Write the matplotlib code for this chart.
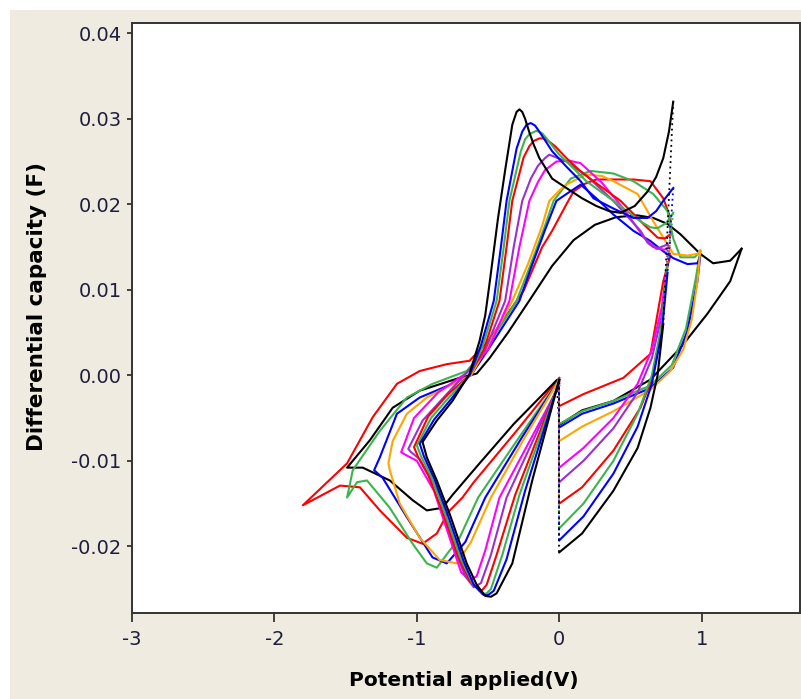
import matplotlib
matplotlib.use("Agg")
import matplotlib.pyplot as plt
from matplotlib.patches import Rectangle
from matplotlib.ticker import FormatStrFormatter

plt.rcParams['font.family'] = ['DejaVu Sans']
plt.rcParams['axes.unicode_minus'] = False

# each curve: main path (from x=0 down-left, round the left vertex, up and
# along the upper branch) and the lower-right path (right vertex back to x=0)
black_a = [(0.00, -0.0005), (-0.19, -0.0123), (-0.33, -0.0220), (-0.44, -0.0255), (-0.48, -0.0259),
           (-0.52, -0.0258), (-0.58, -0.0245), (-0.65, -0.0220), (-0.77, -0.0162), (-0.86, -0.0123),
           (-0.93, -0.0096), (-0.96, -0.0078), (-0.86, -0.0053), (-0.75, -0.0030), (-0.63, 0.0002),
           (-0.56, 0.0040), (-0.52, 0.0070), (-0.49, 0.0107), (-0.43, 0.0184), (-0.38, 0.0240),
           (-0.33, 0.0293), (-0.30, 0.0308), (-0.28, 0.0311), (-0.26, 0.0308), (-0.24, 0.0300),
           (-0.21, 0.0284), (-0.18, 0.0270), (-0.14, 0.0254), (-0.05, 0.0230), (0.05, 0.0219),
           (0.16, 0.0207), (0.26, 0.0198), (0.35, 0.0192), (0.43, 0.0190), (0.53, 0.0198),
           (0.62, 0.0215), (0.68, 0.0232), (0.73, 0.0254), (0.77, 0.0285), (0.80, 0.0320)]
black_a_low = [(0.73, 0.0060), (0.69, 0.0000), (0.64, -0.0038), (0.55, -0.0085), (0.38, -0.0135),
               (0.16, -0.0185), (0.00, -0.0207)]

blue_a = [(0.00, -0.0006), (-0.24, -0.0135), (-0.37, -0.0215), (-0.46, -0.0252), (-0.50, -0.0257),
          (-0.53, -0.0257), (-0.60, -0.0245), (-0.67, -0.0218), (-0.79, -0.0160), (-0.88, -0.0120),
          (-0.95, -0.0095), (-0.98, -0.0080), (-0.88, -0.0052), (-0.76, -0.0028), (-0.63, 0.0000),
          (-0.55, 0.0035), (-0.46, 0.0087), (-0.41, 0.0150), (-0.37, 0.0204), (-0.30, 0.0265),
          (-0.26, 0.0285), (-0.23, 0.0293), (-0.20, 0.0295), (-0.17, 0.0292), (-0.14, 0.0285),
          (-0.05, 0.0262), (0.05, 0.0244), (0.15, 0.0227), (0.24, 0.0207), (0.38, 0.0195),
          (0.52, 0.0184), (0.62, 0.0184), (0.68, 0.0192), (0.73, 0.0204), (0.80, 0.0219)]
blue_a_low = [(0.76, 0.0120), (0.72, 0.0050), (0.65, -0.0010), (0.55, -0.0060), (0.38, -0.0115),
              (0.17, -0.0165), (0.00, -0.0193)]

green_a = [(0.00, -0.0007), (-0.28, -0.0140), (-0.40, -0.0210), (-0.48, -0.0250), (-0.51, -0.0255),
           (-0.54, -0.0256), (-0.61, -0.0243), (-0.69, -0.0215), (-0.81, -0.0158), (-0.90, -0.0118),
           (-0.97, -0.0095), (-1.00, -0.0082), (-0.90, -0.0050), (-0.77, -0.0025), (-0.63, 0.0000),
           (-0.54, 0.0033), (-0.44, 0.0087), (-0.39, 0.0150), (-0.35, 0.0204), (-0.27, 0.0262),
           (-0.24, 0.0276), (-0.21, 0.0282), (-0.16, 0.0286), (-0.12, 0.0283), (-0.08, 0.0275),
           (0.00, 0.0258), (0.10, 0.0242), (0.19, 0.0227), (0.38, 0.0204), (0.57, 0.0180),
           (0.64, 0.0173), (0.69, 0.0172), (0.75, 0.0178), (0.80, 0.0190)]
green_a_low = [(0.76, 0.0130), (0.72, 0.0060), (0.65, 0.0000), (0.55, -0.0045), (0.38, -0.0100),
               (0.17, -0.0150), (0.00, -0.0179)]

red_a = [(0.00, -0.0008), (-0.31, -0.0140), (-0.44, -0.0210), (-0.51, -0.0245), (-0.54, -0.0251),
         (-0.56, -0.0252), (-0.63, -0.0240), (-0.71, -0.0212), (-0.83, -0.0155), (-0.92, -0.0117),
         (-0.99, -0.0096), (-1.02, -0.0084), (-0.92, -0.0048), (-0.78, -0.0022), (-0.63, 0.0000),
         (-0.53, 0.0030), (-0.42, 0.0087), (-0.37, 0.0150), (-0.33, 0.0204), (-0.25, 0.0255),
         (-0.21, 0.0268), (-0.18, 0.0274), (-0.14, 0.0277), (-0.10, 0.0277), (-0.03, 0.0268),
         (0.05, 0.0254), (0.14, 0.0240), (0.24, 0.0227), (0.43, 0.0204), (0.59, 0.0177),
         (0.69, 0.0161), (0.74, 0.0160), (0.78, 0.0165)]
red_a_low = [(0.76, 0.0130), (0.72, 0.0060), (0.66, 0.0000), (0.57, -0.0038), (0.38, -0.0088),
             (0.16, -0.0131), (0.00, -0.0150)]

purple = [(0.00, -0.0010), (-0.37, -0.0143), (-0.48, -0.0210), (-0.55, -0.0243), (-0.60, -0.0248),
          (-0.66, -0.0235), (-0.73, -0.0205), (-0.84, -0.0140), (-0.98, -0.0098), (-1.04, -0.0090),
          (-1.06, -0.0086), (-0.96, -0.0053), (-0.79, -0.0022), (-0.65, 0.0003), (-0.52, 0.0030),
          (-0.38, 0.0087), (-0.32, 0.0150), (-0.26, 0.0204), (-0.20, 0.0230), (-0.15, 0.0245),
          (-0.10, 0.0254), (-0.07, 0.0258), (0.05, 0.0250), (0.20, 0.0232), (0.38, 0.0204),
          (0.57, 0.0169), (0.62, 0.0155), (0.66, 0.0150), (0.70, 0.0149), (0.76, 0.0153)]
purple_low = [(0.75, 0.0110), (0.72, 0.0070), (0.65, 0.0020), (0.55, -0.0020), (0.38, -0.0062),
              (0.17, -0.0100), (0.00, -0.0125)]

magenta = [(0.00, -0.0012), (-0.42, -0.0143), (-0.52, -0.0205), (-0.58, -0.0235), (-0.63, -0.0240),
           (-0.69, -0.0230), (-0.76, -0.0195), (-0.88, -0.0135), (-1.00, -0.0100), (-1.08, -0.0093),
           (-1.11, -0.0090), (-1.02, -0.0050), (-0.85, -0.0020), (-0.65, 0.0003), (-0.50, 0.0030),
           (-0.35, 0.0087), (-0.28, 0.0150), (-0.21, 0.0204), (-0.15, 0.0226), (-0.10, 0.0240),
           (-0.02, 0.0250), (0.07, 0.0251), (0.15, 0.0248), (0.30, 0.0225), (0.45, 0.0195),
           (0.60, 0.0160), (0.68, 0.0148), (0.74, 0.0147), (0.77, 0.0150)]
magenta_low = [(0.75, 0.0120), (0.72, 0.0080), (0.65, 0.0030), (0.55, -0.0010), (0.38, -0.0050),
               (0.17, -0.0085), (0.00, -0.0108)]

orange = [(0.00, -0.0005), (-0.24, -0.0072), (-0.48, -0.0143), (-0.62, -0.0195), (-0.72, -0.0220),
          (-0.84, -0.0216), (-0.98, -0.0190), (-1.12, -0.0150), (-1.19, -0.0111), (-1.20, -0.0103),
          (-1.17, -0.0077), (-1.07, -0.0045), (-0.93, -0.0026), (-0.70, -0.0006), (-0.62, 0.0000),
          (-0.50, 0.0035), (-0.33, 0.0087), (-0.22, 0.0130), (-0.12, 0.0175), (-0.07, 0.0204),
          (0.00, 0.0216), (0.05, 0.0223), (0.19, 0.0235), (0.30, 0.0233), (0.38, 0.0227),
          (0.55, 0.0212), (0.66, 0.0180), (0.76, 0.0153), (0.80, 0.0142), (0.90, 0.0140),
          (0.97, 0.0142), (0.99, 0.0146)]
orange_low = [(0.99, 0.0146), (0.97, 0.0110), (0.93, 0.0065), (0.87, 0.0030), (0.78, 0.0005),
              (0.64, -0.0017), (0.38, -0.0042), (0.16, -0.0060), (0.00, -0.0077)]

blue_b = [(0.00, -0.0005), (-0.26, -0.0072), (-0.52, -0.0143), (-0.66, -0.0195), (-0.79, -0.0220),
          (-0.89, -0.0213), (-1.07, -0.0166), (-1.24, -0.0120), (-1.30, -0.0111), (-1.26, -0.0096),
          (-1.14, -0.0045), (-0.98, -0.0026), (-0.75, -0.0010), (-0.62, 0.0000), (-0.50, 0.0030),
          (-0.28, 0.0087), (-0.20, 0.0125), (-0.10, 0.0170), (-0.02, 0.0204), (0.05, 0.0212),
          (0.15, 0.0223), (0.26, 0.0207), (0.38, 0.0188), (0.52, 0.0169), (0.64, 0.0157),
          (0.73, 0.0145), (0.80, 0.0137), (0.90, 0.0130), (0.97, 0.0131), (0.99, 0.0140)]
blue_b_low = [(0.99, 0.0140), (0.97, 0.0110), (0.90, 0.0052), (0.80, 0.0009), (0.64, -0.0015),
              (0.38, -0.0033), (0.16, -0.0045), (0.00, -0.0061)]

green_b = [(0.00, -0.0005), (-0.28, -0.0072), (-0.57, -0.0143), (-0.70, -0.0190), (-0.77, -0.0205),
           (-0.86, -0.0225), (-0.93, -0.0220), (-1.03, -0.0197), (-1.19, -0.0155), (-1.35, -0.0123),
           (-1.42, -0.0125), (-1.49, -0.0143), (-1.45, -0.0111), (-1.26, -0.0065), (-1.07, -0.0026),
           (-0.89, -0.0010), (-0.65, 0.0005), (-0.50, 0.0035), (-0.30, 0.0087), (-0.20, 0.0130),
           (-0.10, 0.0175), (-0.04, 0.0204), (0.08, 0.0230), (0.22, 0.0239), (0.38, 0.0236),
           (0.52, 0.0227), (0.66, 0.0212), (0.76, 0.0192), (0.80, 0.0160), (0.85, 0.0138),
           (0.95, 0.0138), (0.99, 0.0145)]
green_b_low = [(0.99, 0.0145), (0.96, 0.0115), (0.89, 0.0055), (0.79, 0.0012), (0.64, -0.0012),
               (0.38, -0.0030), (0.16, -0.0042), (0.00, -0.0057)]

black_b = [(-0.02, -0.0006), (-0.32, -0.0057), (-0.56, -0.0103), (-0.75, -0.0140), (-0.82, -0.0155),
           (-0.93, -0.0158), (-1.03, -0.0146), (-1.19, -0.0123), (-1.38, -0.0108), (-1.49, -0.0108),
           (-1.33, -0.0076), (-1.17, -0.0038), (-0.98, -0.0018), (-0.70, -0.0003), (-0.58, 0.0002),
           (-0.49, 0.0020), (-0.36, 0.0050), (-0.20, 0.0090), (-0.05, 0.0128), (0.10, 0.0158),
           (0.25, 0.0176), (0.40, 0.0185), (0.55, 0.0187), (0.66, 0.0184), (0.76, 0.0177),
           (0.85, 0.0165), (0.99, 0.0142), (1.08, 0.0131), (1.20, 0.0134), (1.28, 0.0148)]
black_b_low = [(1.28, 0.0148), (1.20, 0.0110), (1.04, 0.0072), (0.85, 0.0032), (0.64, -0.0005),
               (0.38, -0.0030), (0.16, -0.0041), (0.00, -0.0058)]

red_b = [(0.00, -0.0003), (-0.30, -0.0065), (-0.60, -0.0125), (-0.68, -0.0143), (-0.78, -0.0160),
         (-0.86, -0.0185), (-0.96, -0.0197), (-1.07, -0.0190), (-1.26, -0.0158), (-1.40, -0.0131),
         (-1.54, -0.0129), (-1.80, -0.0152), (-1.49, -0.0103), (-1.31, -0.0049), (-1.14, -0.0010),
         (-0.98, 0.0005), (-0.79, 0.0013), (-0.63, 0.0017), (-0.50, 0.0040), (-0.35, 0.0075),
         (-0.25, 0.0099), (-0.12, 0.0150), (-0.05, 0.0169), (0.05, 0.0200), (0.10, 0.0215),
         (0.18, 0.0224), (0.26, 0.0229), (0.52, 0.0229), (0.64, 0.0227), (0.73, 0.0207),
         (0.78, 0.0184), (0.78, 0.0169)]
red_b_low = [(0.78, 0.0140), (0.73, 0.0110), (0.64, 0.0025), (0.45, -0.0003), (0.17, -0.0022),
             (0.00, -0.0036)]

curves = [
    (red_b, red_b_low, '#ff0000'),
    (black_b, black_b_low, '#000000'),
    (green_b, green_b_low, '#3cb44b'),
    (blue_b, blue_b_low, '#0000ff'),
    (orange, orange_low, '#ffa500'),
    (magenta, magenta_low, '#ff00ff'),
    (purple, purple_low, '#9b30d0'),
    (red_a, red_a_low, '#ff0000'),
    (green_a, green_a_low, '#3cb44b'),
    (blue_a, blue_a_low, '#0000ff'),
    (black_a, black_a_low, '#000000'),
]

fig = plt.figure(figsize=(8.01, 6.99), dpi=100, facecolor='white')
fig.patches.append(Rectangle((10 / 801, 0), 1, 1 - 10 / 699, transform=fig.transFigure,
                             facecolor='#efebe0', edgecolor='none', zorder=-1))
ax = fig.add_axes([132 / 801, 86 / 699, 668 / 801, 590 / 699])
ax.set_facecolor('white')

for main, low, col in curves:
    ax.plot([p[0] for p in main], [p[1] for p in main], color=col, lw=1.5,
            solid_joinstyle='round')
    ax.plot([p[0] for p in low], [p[1] for p in low], color=col, lw=1.5,
            solid_joinstyle='round')
    # sparse jumps at the vertices
    ax.plot([main[-1][0], low[0][0]], [main[-1][1], low[0][1]], color=col, lw=1.3, ls=(0, (1, 2)))
    ax.plot([low[-1][0], main[0][0]], [low[-1][1], main[0][1]], color=col, lw=1.3, ls=(0, (1, 2)))

ax.set_xlim(-3, 1.69)
ax.set_ylim(-0.0278, 0.0412)
ax.set_xticks([-3, -2, -1, 0, 1])
ax.set_yticks([-0.02, -0.01, 0.00, 0.01, 0.02, 0.03, 0.04])
ax.yaxis.set_major_formatter(FormatStrFormatter('%.2f'))
for s in ax.spines.values():
    s.set_color('#333333')
    s.set_linewidth(1.4)
ax.tick_params(axis='x', length=6.5, width=1.3, pad=6, labelsize=14, colors='#333333',
               labelcolor='#1e1e3c')
ax.tick_params(axis='y', length=3.6, width=1.3, pad=4, labelsize=14, colors='#333333',
               labelcolor='#1e1e3c')

fig.text(464 / 801, 1 - 680 / 699, 'Potential applied(V)', ha='center', va='center',
         fontsize=14.5, fontweight='bold')
fig.text(37 / 801, 1 - 307 / 699, 'Differential capacity (F)', ha='center', va='center',
         rotation=90, fontsize=15.5, fontweight='bold')

fig.savefig('out.png', dpi=100, facecolor=fig.get_facecolor())
